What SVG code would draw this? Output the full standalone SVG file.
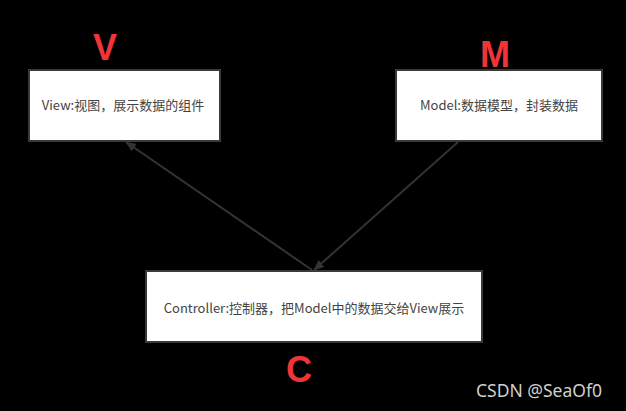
<svg xmlns="http://www.w3.org/2000/svg" width="626" height="411" viewBox="0 0 626 411">
<style>
.box{fill:#fff;stroke:#3a3a3a;stroke-width:2}
.t{font-family:"Noto Sans CJK SC","Liberation Sans",sans-serif;font-size:13px;fill:#444;text-anchor:middle}
.big{font-family:"Liberation Sans",sans-serif;font-weight:bold;font-size:36px;fill:#f03538;text-anchor:middle}
.edge{stroke:#333;stroke-width:2;fill:none}
</style>
<defs>
<marker id="ah" markerWidth="11" markerHeight="9" refX="10" refY="4.5" orient="auto" markerUnits="userSpaceOnUse">
<path d="M0,0 L11,4.5 L0,9 Z" fill="#333"/>
</marker>
</defs>
<rect width="626" height="411" fill="#000"/>
<g id="connectors">
<line class="edge" x1="312" y1="270" x2="126" y2="142" marker-end="url(#ah)"/>
<line class="edge" x1="458" y1="142" x2="314" y2="270" marker-end="url(#ah)"/>
</g>
<g id="view">
<rect class="box" x="29" y="70" width="191" height="71"/>
<text class="t" x="123" y="110">View:视图，展示数据的组件</text>
<text class="big" x="105" y="60">V</text>
</g>
<g id="model">
<rect class="box" x="396" y="70" width="206" height="71"/>
<text class="t" x="499" y="110">Model:数据模型，封装数据</text>
<text class="big" x="495" y="67">M</text>
</g>
<g id="controller">
<rect class="box" x="146" y="271" width="336" height="71"/>
<text class="t" x="314" y="313">Controller:控制器，把Model中的数据交给View展示</text>
<text class="big" x="299" y="382">C</text>
</g>
<text x="539" y="397" font-family="'Noto Sans','DejaVu Sans',sans-serif" font-size="17.5" fill="#cfcfcf" text-anchor="middle">CSDN @SeaOf0</text>
</svg>
